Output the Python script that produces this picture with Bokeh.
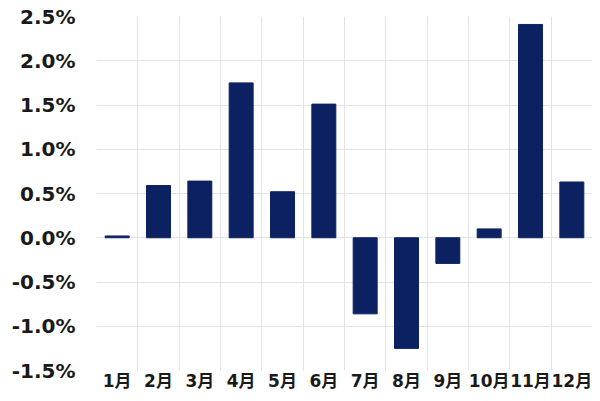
from bokeh.plotting import figure
from bokeh.models import FixedTicker, PrintfTickFormatter, Range1d
from bokeh.embed import file_html
from bokeh.resources import INLINE

months = ["1月", "2月", "3月", "4月", "5月", "6月", "7月", "8月", "9月", "10月", "11月", "12月"]
values = [0.02, 0.59, 0.64, 1.75, 0.52, 1.51, -0.86, -1.25, -0.29, 0.10, 2.41, 0.63]
y_ticks = [-1.5, -1.0, -0.5, 0.0, 0.5, 1.0, 1.5, 2.0, 2.5]

xs = [i + 0.5 for i in range(len(months))]

p = figure(width=592, height=393, output_backend="svg", toolbar_location=None,
           x_range=Range1d(0, 12), y_range=Range1d(-1.5, 2.5),
           min_border_left=96, min_border_right=0, min_border_top=16, min_border_bottom=20)

p.vbar(x=xs, top=values, bottom=0, width=0.58, fill_color="#0c2162", line_color="#0c2162")

p.xaxis.ticker = FixedTicker(ticks=xs)
p.xaxis.major_label_overrides = {x: m for x, m in zip(xs, months)}
p.xgrid.ticker = FixedTicker(ticks=list(range(13)))
p.yaxis.ticker = FixedTicker(ticks=y_ticks)
p.yaxis.formatter = PrintfTickFormatter(format="%.1f%%")

for ax in (p.xaxis, p.yaxis):
    ax.axis_line_color = None
    ax.major_tick_line_color = None
    ax.minor_tick_line_color = None
    ax.major_tick_in = 0
    ax.major_tick_out = 0
    ax.minor_tick_in = 0
    ax.minor_tick_out = 0
    ax.major_label_text_font = "DejaVu Sans, Noto Sans CJK JP"
    ax.major_label_text_font_style = "bold"
    ax.major_label_text_color = "#1a1a1a"

p.yaxis.major_label_text_font_size = "20px"
p.xaxis.major_label_text_font_size = "17px"
p.yaxis.major_label_standoff = 21
p.xaxis.major_label_standoff = 0

p.xgrid.grid_line_color = "#e2e2e8"
p.ygrid.grid_line_color = "#e2e2e8"
p.outline_line_color = None
p.background_fill_color = "white"
p.border_fill_color = "white"

open("out.html", "w").write(file_html(p, INLINE))
